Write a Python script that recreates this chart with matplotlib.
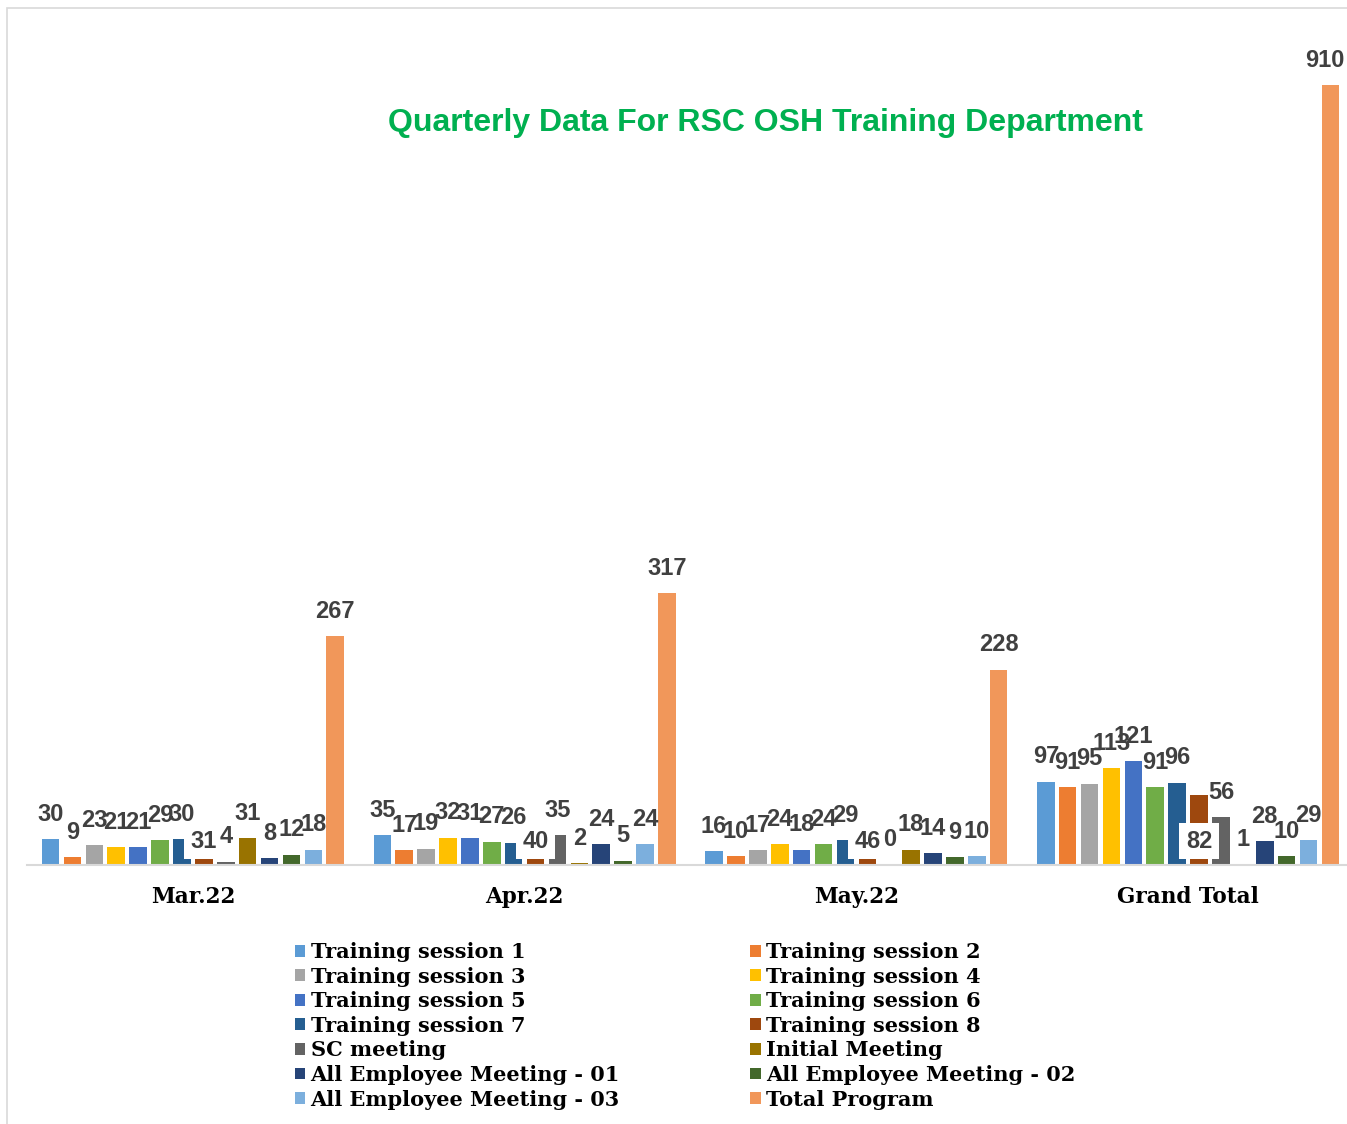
import numpy as np
import matplotlib
matplotlib.use('Agg')
import matplotlib.pyplot as plt
from matplotlib.patches import Rectangle

# data
groups = ['Mar.22', 'Apr.22', 'May.22', 'Grand Total']
series = ['Training session 1', 'Training session 2', 'Training session 3',
          'Training session 4', 'Training session 5', 'Training session 6',
          'Training session 7', 'Training session 8', 'SC meeting',
          'Initial Meeting', 'All Employee Meeting - 01',
          'All Employee Meeting - 02', 'All Employee Meeting - 03',
          'Total Program']
mar22 = [30, 9, 23, 21, 21, 29, 30, 31, 4, 31, 8, 12, 18, 267]
apr22 = [35, 17, 19, 32, 31, 27, 26, 40, 35, 2, 24, 5, 24, 317]
may22 = [16, 10, 17, 24, 18, 24, 29, 46, 0, 18, 14, 9, 10, 228]
grand_total = [97, 91, 95, 113, 121, 91, 96, 82, 56, 1, 28, 10, 29, 910]

colors = ['#5B9BD5', '#ED7D31', '#A5A5A5', '#FFC000', '#4472C4', '#70AD47',
          '#255E91', '#9E480E', '#636363', '#997300', '#264478', '#43682B',
          '#7CAFDD', '#F1975A']

values = np.array([mar22, apr22, may22, grand_total])  # groups x series

fig = plt.figure(figsize=(13.47, 11.24), dpi=100)
ax = fig.add_axes([27 / 1347, 259 / 1124, 1320 / 1347, 857 / 1124])

x = np.arange(len(groups))
step = 0.066
width = 0.053
handles = []
for i, name in enumerate(series):
    pos = x + (i - 6.5) * step
    h = ax.bar(pos, values[:, i], width, color=colors[i], label=name, zorder=2)
    handles.append(h)
    for g, (xp, v) in enumerate(zip(pos, values[:, i])):
        if i == 7:
            # these labels sit low with a white fill, as in the original
            ax.text(xp, 28, str(v), ha='center', va='center', fontsize=17,
                    fontweight='bold', color='#404040', family='Liberation Sans',
                    zorder=3,
                    bbox=dict(boxstyle='square,pad=0.28', fc='white', ec='none'))
        else:
            # keep the last label inside the chart edge
            dx = -4 if (g == 3 and i == 13) else 0
            ax.annotate(str(v), (xp, v), xytext=(dx, 18), textcoords='offset points',
                        ha='center', va='center', fontsize=17, fontweight='bold',
                        color='#404040', family='Liberation Sans', zorder=4)

ax.set_xlim(-0.5, 3.5 - 7 / 331.5)
ax.set_ylim(0, 1000)
ax.set_yticks([])
ax.set_xticks(x)
ax.set_xticklabels(groups, fontsize=15.5, fontweight='bold', family='DejaVu Serif')
ax.tick_params(axis='x', length=0, pad=15)
for s in ['top', 'right', 'left']:
    ax.spines[s].set_visible(False)
ax.spines['bottom'].set_color('#d9d9d9')
ax.spines['bottom'].set_linewidth(1.5)

fig.text(765 / 1347, 1 - 123 / 1124, 'Quarterly Data For RSC OSH Training Department',
         ha='center', va='center', fontsize=23, fontweight='bold',
         color='#00B050', family='Liberation Sans')

# legend laid out row by row
order = list(range(0, 14, 2)) + list(range(1, 14, 2))
leg = fig.legend([handles[k] for k in order], [series[k] for k in order],
                 ncol=2, loc='upper left', bbox_to_anchor=(295 / 1347, 1 - 942 / 1124),
                 frameon=False, prop={'family': 'DejaVu Serif', 'weight': 'bold', 'size': 15},
                 handlelength=0.5, handleheight=0.5, handletextpad=0.25,
                 labelspacing=0.22, columnspacing=6.25, borderpad=0, borderaxespad=0)

fig.patches.append(Rectangle((7 / 1347, -0.1), 2, 1.1 - 8 / 1124, transform=fig.transFigure,
                             fill=False, ec='#d9d9d9', lw=1.2, zorder=0))

fig.savefig('out.png', dpi=100)
